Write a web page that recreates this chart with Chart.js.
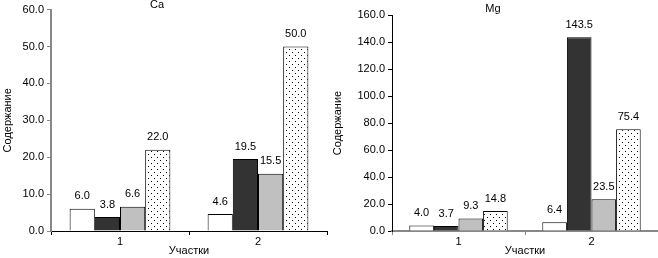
<!DOCTYPE html>
<html>
<head>
<meta charset="utf-8">
<script src="https://cdn.jsdelivr.net/npm/chart.js@4"></script>
<style>
  body { margin: 0; background: #fff; }
  #wrap { position: relative; width: 658px; height: 258px; }
  canvas { position: absolute; top: 0; }
</style>
</head>
<body>
<div id="wrap">
  <canvas id="chartCa" width="330" height="258" style="left:0"></canvas>
  <canvas id="chartMg" width="328" height="258" style="left:330px"></canvas>
</div>
<script>
const categories = ["1", "2"];

const caWhite = [6.0, 4.6];
const caDark = [3.8, 19.5];
const caGray = [6.6, 15.5];
const caDotted = [22.0, 50.0];

const mgWhite = [4.0, 6.4];
const mgDark = [3.7, 143.5];
const mgGray = [9.3, 23.5];
const mgDotted = [14.8, 75.4];

const yTitle = "Содержание";
const xTitle = "Участки";

Chart.defaults.font.family = "'Liberation Sans', Arial, sans-serif";
Chart.defaults.color = "#000";

function dotPattern() {
  const c = document.createElement("canvas");
  c.width = 6;
  c.height = 6;
  const g = c.getContext("2d");
  g.fillStyle = "#fff";
  g.fillRect(0, 0, 6, 6);
  g.fillStyle = "#000";
  g.fillRect(1, 1, 1, 1);
  g.fillRect(4, 4, 1, 1);
  return g.createPattern(c, "repeat");
}

// value labels above each bar + chart title
const barLabels = {
  id: "barLabels",
  afterDatasetsDraw(chart, args, opts) {
    const ctx = chart.ctx;
    ctx.save();
    ctx.font = "11px 'Liberation Sans', Arial, sans-serif";
    ctx.fillStyle = "#000";
    ctx.textAlign = "center";
    ctx.textBaseline = "bottom";
    chart.data.datasets.forEach((ds, i) => {
      chart.getDatasetMeta(i).data.forEach((bar, j) => {
        ctx.fillText(ds.data[j].toFixed(1), bar.x, bar.y - 7);
      });
    });
    ctx.font = "11px 'Liberation Sans', Arial, sans-serif";
    ctx.textBaseline = "middle";
    ctx.fillText(opts.text, opts.x, opts.y);
    ctx.restore();
  }
};

function makeChart(id, title, vals, cfg) {
  const pat = dotPattern();
  const colors = ["#ffffff", "#333333", "#c0c0c0", pat];
  return new Chart(document.getElementById(id), {
    type: "bar",
    data: {
      labels: categories,
      datasets: vals.map((v, i) => ({
        data: v,
        backgroundColor: colors[i],
        borderColor: "#000",
        borderWidth: 1,
        categoryPercentage: cfg.catPct,
        barPercentage: 1
      }))
    },
    options: {
      responsive: false,
      animation: false,
      layout: { padding: { top: cfg.top, right: cfg.right, left: 0, bottom: 0 } },
      plugins: {
        legend: { display: false },
        tooltip: { enabled: false },
        barLabels: { text: title, x: cfg.titleX, y: cfg.titleY }
      },
      scales: {
        x: {
          grid: { drawOnChartArea: false, tickLength: 4, color: cfg.xColor },
          border: { color: cfg.xColor, width: cfg.xWidth },
          ticks: { padding: 0, font: { size: 11 } },
          title: { display: true, text: xTitle, font: { size: 11 }, padding: 0 },
          afterFit(s) { s.height = 27; }
        },
        y: {
          min: 0,
          max: cfg.max,
          grid: { drawOnChartArea: false, tickLength: 4, color: cfg.yColor },
          border: { color: cfg.yColor, width: cfg.yWidth },
          ticks: {
            stepSize: cfg.step,
            padding: 3,
            font: { size: 11 },
            callback: v => v.toFixed(1)
          },
          title: { display: true, text: yTitle, font: { size: 11 }, padding: 1 },
          afterFit(s) { s.width = cfg.yWidthPx; }
        }
      }
    },
    plugins: [barLabels]
  });
}

makeChart("chartCa", "Ca", [caWhite, caDark, caGray, caDotted], {
  max: 60, step: 10, top: 7, right: 3, yWidthPx: 51, catPct: 0.73,
  xColor: "#000", xWidth: 1, yColor: "#888", yWidth: 2,
  titleX: 157, titleY: 5
});

makeChart("chartMg", "Mg", [mgWhite, mgDark, mgGray, mgDotted], {
  max: 160, step: 20, top: 15, right: 0, yWidthPx: 62, catPct: 0.74,
  xColor: "#888", xWidth: 2, yColor: "#000", yWidth: 1,
  titleX: 163, titleY: 9
});
</script>
</body>
</html>
